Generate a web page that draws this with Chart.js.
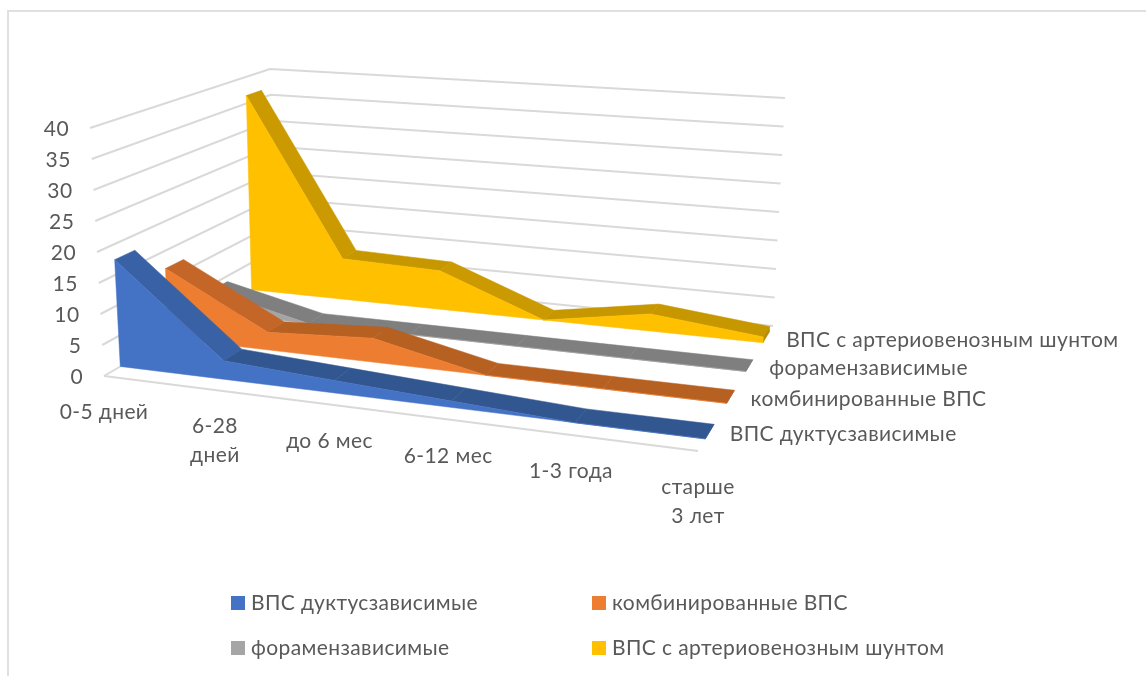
<!DOCTYPE html>
<html>
<head>
<meta charset="utf-8">
<style>
  html, body { margin: 0; padding: 0; background: #fff; }
  canvas { display: block; }
</style>
<script src="https://cdn.jsdelivr.net/npm/chart.js@4"></script>
</head>
<body>
<canvas id="chart" width="1146" height="676"></canvas>
<script>
// Age groups along the front of the floor
const categories = ['0-5 дней', ['6-28', 'дней'], 'до 6 мес', '6-12 мес', '1-3 года', ['старше', '3 лет']];
const valueTicks = [0, 5, 10, 15, 20, 25, 30, 35, 40];

// Series, front to back
const seriesNames = ['ВПС дуктусзависимые', 'комбинированные ВПС', 'форамензависимые', 'ВПС с артериовенозным шунтом'];
const ductal = [17.5, 3, 2, 1, 0, 0];
const combined = [12, 3, 4, 0, 0, 0];
const foramen = [4, 0, 0, 0, 0, 0];
const shunt = [36.5, 7.5, 7, 0, 3, 1];
const seriesValues = [ductal, combined, foramen, shunt];

const faceColors = ['#4472C4', '#ED7D31', '#A5A5A5', '#FFC000'];
const steepBandColors = ['#3861A6', '#C46628', '#828282', '#CB9A00'];
const flatBandColors = ['#32568F', '#B66022', '#7F7F7F', '#C79700'];
const capColors = ['#2F5597', '#B55D22', '#767676', '#B88C00'];

const maxValue = 40;
const gridColor = '#D9D9D9';
const frameColor = '#E0E0E0';
const textColor = '#595959';
const FONT = 'Lato, "Open Sans", sans-serif';
const labelSize = 21;

// Box corners on the canvas scale: floor and the plane of the top gridline
const floorCorners = [[104, 376], [698, 451], [773, 326], [275, 276]];
const topCorners = [[90, 128], [709, 182], [785, 98], [270, 69]];

// Homography taking the unit square to a quadrilateral
function squareToQuad(q) {
  const [[x0, y0], [x1, y1], [x2, y2], [x3, y3]] = q;
  const dx1 = x1 - x2, dx2 = x3 - x2, sx = x0 - x1 + x2 - x3;
  const dy1 = y1 - y2, dy2 = y3 - y2, sy = y0 - y1 + y2 - y3;
  const den = dx1 * dy2 - dx2 * dy1;
  const g = (sx * dy2 - dx2 * sy) / den;
  const h = (dx1 * sy - sx * dy1) / den;
  const a = x1 - x0 + g * x1, b = x3 - x0 + h * x3, c = x0;
  const d = y1 - y0 + g * y1, e = y3 - y0 + h * y3, f = y0;
  return (u, v) => {
    const w = g * u + h * v + 1;
    return [(a * u + b * v + c) / w, (d * u + e * v + f) / w];
  };
}
const floorMap = squareToQuad(floorCorners);
const topMap = squareToQuad(topCorners);

// u: along the categories, v: depth, value: data value
function project(u, v, value) {
  const [fx, fy] = floorMap(u, v);
  const [tx, ty] = topMap(u, v);
  const t = value / maxValue;
  return { x: fx + (tx - fx) * t, y: fy + (ty - fy) * t };
}

// Small spacing correction along the category axis, separate for marks and labels
const bowed = (i, bow) => {
  const t = i / (categories.length - 1);
  return t + bow * t * (1 - t);
};
const uOf = i => bowed(i, -0.015);
const labelU = i => bowed(i, 0.038);
const depthStep = 0.253, depthStart = 0.08, depthSize = 0.1;
const frontV = k => depthStart + k * depthStep;
const backV = k => frontV(k) + depthSize;

function polygon(points, color) {
  return {
    data: [...points, points[0]],
    showLine: true,
    fill: 'shape',
    backgroundColor: color,
    borderColor: color,
    borderWidth: 0.5,
    pointRadius: 0,
    pointHoverRadius: 0,
    tension: 0
  };
}
function line(points) {
  return {
    data: points,
    showLine: true,
    fill: false,
    borderColor: gridColor,
    borderWidth: 2,
    pointRadius: 0,
    pointHoverRadius: 0
  };
}

// Datasets are listed back to front, then reversed since Chart.js paints index 0 last
const painted = [];
valueTicks.forEach(t => {
  painted.push(line([project(0, 0, t), project(0, 1, t), project(1, 1, t)]));
});
painted.push(line([project(0, 0, 0), project(1, 0, 0)]));

for (let k = seriesValues.length - 1; k >= 0; k--) {
  const vals = seriesValues[k];
  const f = frontV(k), b = backV(k);
  vals.slice(0, -1).forEach((val, i) => {
    const next = vals[i + 1];
    painted.push(polygon([
      project(uOf(i), f, val), project(uOf(i + 1), f, next),
      project(uOf(i + 1), b, next), project(uOf(i), b, val)
    ], Math.abs(val - next) > 5 ? steepBandColors[k] : flatBandColors[k]));
  });
  const last = vals.length - 1;
  painted.push(polygon([
    project(1, f, 0), project(1, b, 0), project(1, b, vals[last]), project(1, f, vals[last])
  ], capColors[k]));
  const face = vals.map((val, i) => project(uOf(i), f, val));
  painted.push(polygon([project(0, f, 0), ...face, project(1, f, 0)], faceColors[k]));
}

// Axis text, series names, the two-column key and the chart frame
const annotations = {
  id: 'annotations',
  afterDraw(chart) {
    const { ctx, scales: { x, y } } = chart;
    const px = p => x.getPixelForValue(p.x), py = p => y.getPixelForValue(p.y);
    ctx.save();
    ctx.font = `${labelSize}px ${FONT}`;
    ctx.letterSpacing = '0.4px';
    ctx.fillStyle = textColor;
    ctx.textBaseline = 'middle';

    ctx.textAlign = 'right';
    valueTicks.forEach(t => {
      const p = project(0, 0, t);
      ctx.fillText(String(t), px(p) - 21, py(p) + 1);
    });

    ctx.textAlign = 'center';
    categories.forEach((c, i) => {
      const p = project(labelU(i), 0, 0);
      [].concat(c).forEach((txt, n) => ctx.fillText(txt, px(p), py(p) + 36.5 + n * 28.5));
    });

    ctx.textAlign = 'left';
    seriesNames.forEach((name, k) => {
      const p = project(1, frontV(k) + depthSize / 2, 0);
      ctx.fillText(name, px(p) + 20, py(p) + 3);
    });

    const keyX = [231, 592], keyY = [603, 648];
    seriesNames.forEach((name, k) => {
      const cx = keyX[k % 2], cy = keyY[k >> 1];
      ctx.fillStyle = faceColors[k];
      ctx.fillRect(cx, cy - 7, 14, 14);
      ctx.fillStyle = textColor;
      ctx.fillText(name, cx + 20, cy);
    });

    ctx.strokeStyle = frameColor;
    ctx.lineWidth = 2;
    ctx.beginPath();
    ctx.moveTo(8, 676);
    ctx.lineTo(8, 11);
    ctx.lineTo(1146, 11);
    ctx.stroke();
    ctx.restore();
  }
};

new Chart(document.getElementById('chart'), {
  type: 'scatter',
  data: { datasets: painted.reverse() },
  options: {
    responsive: false,
    animation: false,
    events: [],
    layout: { padding: 0 },
    plugins: { legend: { display: false }, tooltip: { enabled: false } },
    scales: {
      x: { type: 'linear', min: 0, max: 1146, display: false },
      y: { type: 'linear', min: 0, max: 676, reverse: true, display: false }
    }
  },
  plugins: [annotations]
});
</script>
</body>
</html>
